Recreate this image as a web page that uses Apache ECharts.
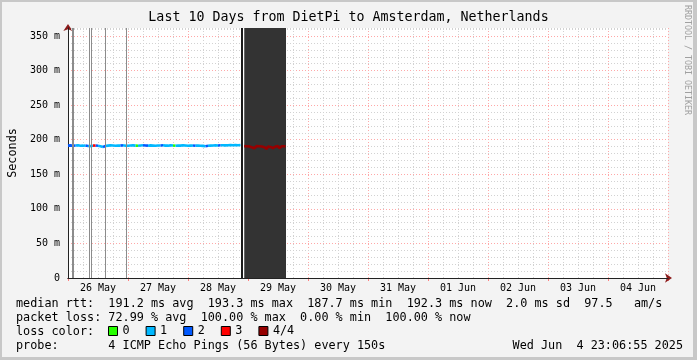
<!DOCTYPE html>
<html>
<head>
<meta charset="utf-8">
<script src="https://cdn.jsdelivr.net/npm/echarts@6/dist/echarts.min.js"></script>
<style>
html,body{margin:0;padding:0;background:#f3f3f3;}
#chart{width:697px;height:360px;}
</style>
</head>
<body>
<div id="chart"></div>
<script>
// ---- data ----
const titleText = 'Last 10 Days from DietPi to Amsterdam, Netherlands';
const xTickLabels = ['26 May','27 May','28 May','29 May','30 May','31 May','01 Jun','02 Jun','03 Jun','04 Jun'];
const yTickLabels = ['0','50 m','100 m','150 m','200 m','250 m','300 m','350 m'];
const yMaxMs = 361.6;
const hoursSpan = 240;

// hourly median rtt (ms), hours 0..69 after 26 May 00:00
const medianMs = [
  191.5,191.8,191.3,191.6,191.9,191.2,191.4,191.7,191.0,190.8,
  191.4,191.6,191.2,190.6,189.6,190.8,191.5,191.8,191.6,191.3,
  191.7,191.5,191.9,191.4,191.2,191.6,191.8,191.5,191.3,191.7,
  191.9,191.6,191.4,191.8,191.5,191.2,191.6,191.7,191.9,191.5,
  191.4,191.8,191.6,191.3,191.7,191.5,191.9,191.6,191.2,191.5,
  191.7,191.4,191.6,191.3,191.1,190.6,191.2,191.5,191.6,191.8,
  191.7,191.9,192.1,191.8,192.0,192.2,191.9,192.3,192.1,192.3
];
// loss class (pings lost out of 4) for each hour
const lossClass = [
  2,2,2,1,1,1,1,2,1,1,
  3,2,1,1,2,1,1,1,1,1,
  1,2,1,1,1,1,1,0,1,1,
  2,2,1,1,1,1,1,2,1,1,
  1,1,0,1,1,1,1,1,1,1,
  2,1,1,1,1,2,1,1,1,1,
  2,1,1,1,1,1,1,1,1,1
];
// half-hourly median during the 4/4 period, from hour 70.5
const redStartHour = 70.5;
const redStepHours = 0.5;
const redMedianMs = [
  190.8,189.5,190.6,188.2,190.4,190.9,189.0,190.5,187.6,190.2,
  190.8,189.8,190.6,188.5,190.3,190.7,189.2,190.5,186.8,190.1,
  190.6,189.6,190.4,188.0,190.6,190.2,189.1,190.7,187.8,190.3,
  190.5,189.4,190.6,190.2
];
const redLossClass = 4;
// hours with single lost samples (grey bars), total-loss marker, dark span
const lossBarHours = [1.9, 8.5, 9.2, 14.9, 23.1];
const totalLossHour = 69.3;
const darkSpanHours = [70.5, 87.2];

const lossNames = ['0','1','2','3','4/4'];
const lossColors = ['#26ff00','#00b8ff','#0059ff','#ff0000','#960000'];

const statLines = [
  'median rtt:  191.2 ms avg  193.3 ms max  187.7 ms min  192.3 ms now  2.0 ms sd  97.5   am/s',
  'packet loss: 72.99 % avg  100.00 % max  0.00 % min  100.00 % now',
  'loss color:',
  'probe:       4 ICMP Echo Pings (56 Bytes) every 150s'
];
const dateText = 'Wed Jun  4 23:06:55 2025';

// ---- build ----
const runs = [
  {x: medianMs.map((_, i) => i), v: medianMs, loss: lossClass},
  {x: redMedianMs.map((_, i) => redStartHour + i * redStepHours), v: redMedianMs,
   loss: redMedianMs.map(() => redLossClass)}
];
function segmentsFor(cls) {
  const out = [];
  runs.forEach(run => {
    let open = false;
    for (let i = 0; i < run.v.length - 1; i++) {
      if (run.loss[i] === cls) {
        if (!open) { if (out.length) out.push(null); out.push([run.x[i], run.v[i]]); open = true; }
        out.push([run.x[i + 1], run.v[i + 1]]);
      } else open = false;
    }
  });
  return out;
}

const MONO = '"DejaVu Sans Mono", monospace';
const minorGrey = '#d2d2d2';
const majorRed = '#ffa8a8';

const series = [{
  name: 'loss-marks', type: 'line', data: [], z: 2, silent: true,
  markArea: {silent: true, itemStyle: {color: '#333333', opacity: 1},
    data: [[{xAxis: darkSpanHours[0]}, {xAxis: darkSpanHours[1]}]]},
  markLine: {silent: true, symbol: 'none', label: {show: false},
    data: lossBarHours.map((h, i) => ({xAxis: h, lineStyle: {color: '#8c8c8c', width: i === 0 ? 2 : 1, type: 'solid'}}))
      .concat([{xAxis: totalLossHour, lineStyle: {color: '#1a1a1a', width: 2, type: 'solid'}}])}
}];
lossNames.forEach((n, c) => {
  series.push({
    name: n, type: 'line', data: segmentsFor(c), showSymbol: false, symbol: 'none',
    connectNulls: false, z: 3, lineStyle: {color: lossColors[c], width: 2.6},
    itemStyle: {color: lossColors[c]}
  });
});

const chart = echarts.init(document.getElementById('chart'), null, {renderer: 'canvas'});
chart.setOption({
  animation: false,
  backgroundColor: '#f3f3f3',
  title: {text: titleText, left: 'center', top: 11, padding: 0,
    textStyle: {fontFamily: MONO, fontSize: 13.3, fontWeight: 'normal', color: '#000'}},
  legend: {data: lossNames, left: 108, top: 325, padding: 0, icon: 'rect', itemWidth: 9, itemHeight: 9,
    itemGap: 16, selectedMode: false,
    itemStyle: {borderColor: '#000', borderWidth: 1},
    textStyle: {fontFamily: MONO, fontSize: 11.8, color: '#000'}},
  grid: {left: 68, right: 29, top: 28, bottom: 82, show: true, backgroundColor: '#ffffff', borderWidth: 0,
    containLabel: false, outerBoundsMode: 'none'},
  xAxis: [{
    type: 'value', min: 0, max: hoursSpan, interval: 6, z: 1,
    axisLine: {show: true, lineStyle: {color: '#222', width: 1}},
    axisTick: {show: false},
    splitLine: {show: true, lineStyle: {color: ['transparent', minorGrey, minorGrey, minorGrey], type: [1, 2], width: 1}},
    axisLabel: {margin: 5, fontFamily: MONO, fontSize: 10, color: '#000',
      formatter: v => ((v - 12) % 24 === 0 ? xTickLabels[(v - 12) / 24] : '')}
  }, {
    type: 'value', min: 0, max: hoursSpan, interval: 24, z: 0, position: 'bottom',
    axisLine: {show: true, symbol: ['none', 'arrow'], symbolSize: [7, 7], symbolOffset: [0, 4],
      lineStyle: {color: '#8b1a1a', width: 1}},
    axisTick: {show: true, length: 3, lineStyle: {color: '#ff8080'}},
    splitLine: {show: true, lineStyle: {color: majorRed, type: [1, 2], width: 1}},
    axisLabel: {show: false}
  }],
  yAxis: [{
    type: 'value', min: 0, max: yMaxMs, interval: 10, z: 1,
    name: 'Seconds', nameLocation: 'middle', nameRotate: 90, nameGap: 49,
    nameTextStyle: {fontFamily: MONO, fontSize: 11.8, color: '#000'},
    axisLine: {show: true, lineStyle: {color: '#222', width: 1}},
    axisTick: {show: false},
    splitLine: {show: true, lineStyle: {color: ['transparent', minorGrey, minorGrey, minorGrey, minorGrey], type: [1, 2], width: 1}},
    axisLabel: {margin: 8, fontFamily: MONO, fontSize: 10, color: '#000',
      formatter: v => (v % 50 === 0 ? yTickLabels[v / 50] : '')}
  }, {
    type: 'value', min: 0, max: yMaxMs, interval: 50, z: 0, position: 'left',
    axisLine: {show: true, symbol: ['none', 'arrow'], symbolSize: [7, 7], symbolOffset: [0, 4],
      lineStyle: {color: '#8b1a1a', width: 1}},
    axisTick: {show: false},
    splitLine: {show: true, lineStyle: {color: majorRed, type: [1, 2], width: 1}},
    axisLabel: {show: false}
  }],
  graphic: [
    {type: 'rect', silent: true, z: 100, shape: {x: 0, y: 0, width: 695, height: 359},
      style: {fill: null, stroke: '#c8c8c8', lineWidth: 4}},
    {type: 'text', silent: true, x: 687, y: 60, rotation: -Math.PI / 2,
      style: {text: 'RRDTOOL / TOBI OETIKER', font: '8.3px ' + MONO, fill: '#a0a0a0', align: 'center', verticalAlign: 'middle'}},
    {type: 'text', silent: true, x: 16, y: 304, style: {text: statLines[0], font: '11.8px ' + MONO, fill: '#000', verticalAlign: 'middle'}},
    {type: 'text', silent: true, x: 16, y: 318, style: {text: statLines[1], font: '11.8px ' + MONO, fill: '#000', verticalAlign: 'middle'}},
    {type: 'text', silent: true, x: 16, y: 332, style: {text: statLines[2], font: '11.8px ' + MONO, fill: '#000', verticalAlign: 'middle'}},
    {type: 'text', silent: true, x: 16, y: 346, style: {text: statLines[3], font: '11.8px ' + MONO, fill: '#000', verticalAlign: 'middle'}},
    {type: 'text', silent: true, x: 683, y: 346, style: {text: dateText, font: '11.8px ' + MONO, fill: '#000', align: 'right', verticalAlign: 'middle'}}
  ],
  series: series
});
</script>
</body>
</html>
